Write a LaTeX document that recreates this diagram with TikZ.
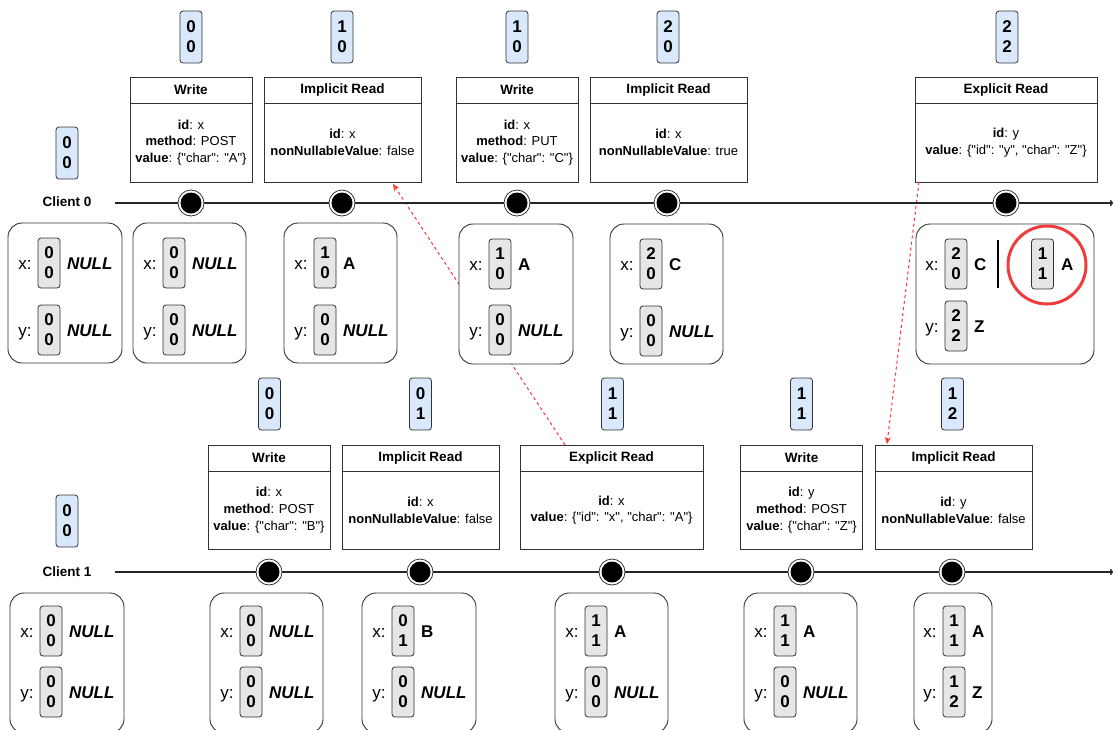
\documentclass[tikz,border=0pt]{standalone}
\usepackage{fontspec}
\setmainfont{Liberation Sans}
\newfontfamily\plainsans{Liberation Sans}
\usetikzlibrary{arrows.meta}
\definecolor{clkblue}{HTML}{DAE8FC}
\definecolor{clkgray}{HTML}{E6E6E6}
\definecolor{edgegray}{HTML}{333333}
\definecolor{arrred}{HTML}{FF3333}
\definecolor{hlred}{HTML}{EE3D3D}

\newcommand{\KeyVal}[2]{\textbf{#1}: #2}
\newcommand{\EvBox}[7]{%
  \node[evbox, minimum width=#4pt, minimum height=#5pt] (#1) at (#2,#3) {};
  \draw[evline] ([yshift=-26pt]#1.north west) -- ([yshift=-26pt]#1.north east);
  \node[evtitle] (#1t) at ([yshift=-13pt]#1.north) {#6};
  \node[evbody] (#1b) at ([yshift=-13pt]#1.center) {#7};}
\newcommand{\VClk}[5]{\node[vclk] (#1) at (#2,#3) {#4\\#5};}
\newcommand{\StRow}[7]{%
  \node[slbl] (#1l) at (#2+17,#3) {#4:};
  \node[gclk] (#1c) at (#2+41,#3) {#5\\#6};
  \node[sval] (#1v) at (#2+59,#3) {#7};}
\newcommand{\EvMark}[3]{\node[evmark] (#1) at (#2,#3) {};}
\newcommand{\NL}{\textit{NULL}}

\tikzset{
  evbox/.style={draw=edgegray, fill=white, line width=0.9pt, inner sep=0pt, outer sep=0pt},
  evline/.style={draw=edgegray, line width=0.9pt},
  evtitle/.style={inner sep=0pt, font=\plainsans\fontsize{13.5}{16}\selectfont\bfseries},
  evbody/.style={inner sep=0pt, align=center, font=\plainsans\fontsize{13}{16.7}\selectfont},
  vclk/.style={draw=edgegray, fill=clkblue, rounded corners=3pt, minimum width=22pt, minimum height=52pt, inner sep=0pt, align=center, line width=0.8pt, font=\plainsans\fontsize{17}{20}\selectfont\bfseries},
  gclk/.style={vclk, fill=clkgray, minimum height=50pt},
  stbox/.style={draw=edgegray, fill=white, rounded corners=14pt, line width=0.9pt, inner sep=0pt},
  slbl/.style={inner sep=0pt, text height=12.2pt, text depth=0pt, font=\plainsans\fontsize{17}{20}\selectfont},
  sval/.style={slbl, anchor=west, font=\plainsans\fontsize{17}{20}\selectfont\bfseries},
  evmark/.style={circle, draw=black!80, fill=white, minimum size=26pt, inner sep=0pt, line width=0.8pt,
     path picture={\fill[black] (path picture bounding box.center) circle (10.5pt);}},
  timeline/.style={draw=black!85, line width=1.4pt, -{To[length=3pt,width=6pt]}},
  causal/.style={draw=arrred, line width=1pt, dash pattern=on 3pt off 3pt, -{Stealth[length=7pt,width=6pt]}},
  client/.style={inner sep=0pt, font=\plainsans\fontsize{13.5}{16}\selectfont\bfseries},
  hlring/.style={circle, draw=hlred, line width=3pt, minimum size=78pt, inner sep=0pt},
  barsep/.style={draw=black, line width=1.5pt}
}

\begin{document}
\begin{tikzpicture}[x=1pt, y=-1pt]
\path[fill=white, use as bounding box] (0,0) rectangle (1114,729);

% ---------- event boxes (Client 0) ----------
\EvBox{A1}{191}{129.5}{122}{105}{Write}{\KeyVal{id}{x}\\\KeyVal{method}{POST}\\\KeyVal{value}{\{"char": "A"\}}}
\EvBox{A2}{342.5}{129.5}{157}{105}{Implicit Read}{\KeyVal{id}{x}\\\KeyVal{nonNullableValue}{false}}
\EvBox{A3}{517}{129.5}{122}{105}{Write}{\KeyVal{id}{x}\\\KeyVal{method}{PUT}\\\KeyVal{value}{\{"char": "C"\}}}
\EvBox{A4}{668.5}{129.5}{157}{105}{Implicit Read}{\KeyVal{id}{x}\\\KeyVal{nonNullableValue}{true}}
\EvBox{A5}{1006}{129.5}{182}{105}{Explicit Read}{\KeyVal{id}{y}\\\KeyVal{value}{\{"id": "y", "char": "Z"\}}}

% ---------- event boxes (Client 1) ----------
\EvBox{B1}{269}{497}{122}{104}{Write}{\KeyVal{id}{x}\\\KeyVal{method}{POST}\\\KeyVal{value}{\{"char": "B"\}}}
\EvBox{B2}{420.5}{497}{157}{104}{Implicit Read}{\KeyVal{id}{x}\\\KeyVal{nonNullableValue}{false}}
\EvBox{B3}{611.5}{497}{183}{104}{Explicit Read}{\KeyVal{id}{x}\\\KeyVal{value}{\{"id": "x", "char": "A"\}}}
\EvBox{B4}{801.5}{497}{122}{104}{Write}{\KeyVal{id}{y}\\\KeyVal{method}{POST}\\\KeyVal{value}{\{"char": "Z"\}}}
\EvBox{B5}{953.5}{497}{157}{104}{Implicit Read}{\KeyVal{id}{y}\\\KeyVal{nonNullableValue}{false}}

% ---------- causal arrows ----------
\draw[causal] ([xshift=45pt]B3.north west) -- ([xshift=129pt,yshift=-2pt]A2.south west);
\draw[causal] ([xshift=4pt]A5.south west) -- ([xshift=12pt,yshift=1pt]B5.north west);

% ---------- timelines ----------
\node[client] (cl0) at (67,202) {Client 0};
\node[client] (cl1) at (67,572) {Client 1};
\coordinate (t0s) at (115,203);
\coordinate (t0e) at (1113,203);
\coordinate (t1s) at (115,572);
\coordinate (t1e) at (1113,572);
\draw[timeline] (t0s) -- (t0e);
\draw[timeline] (t1s) -- (t1e);

% ---------- vector clocks ----------
\VClk{V0}{67}{153}{0}{0}
\VClk{VA1}{191}{37}{0}{0}
\VClk{VA2}{342}{37}{1}{0}
\VClk{VA3}{517}{37}{1}{0}
\VClk{VA4}{668}{37}{2}{0}
\VClk{VA5}{1007}{37}{2}{2}
\VClk{V1}{67}{521}{0}{0}
\VClk{VB1}{269.5}{404}{0}{0}
\VClk{VB2}{420.5}{404}{0}{1}
\VClk{VB3}{612.5}{404}{1}{1}
\VClk{VB4}{801.5}{404}{1}{1}
\VClk{VB5}{952.5}{404}{1}{2}

% ---------- event markers ----------
\EvMark{MA1}{191}{203}
\EvMark{MA2}{342}{203}
\EvMark{MA3}{517}{203}
\EvMark{MA4}{667}{203}
\EvMark{MA5}{1006}{203}
\EvMark{MB1}{269}{572}
\EvMark{MB2}{420}{572}
\EvMark{MB3}{612}{572}
\EvMark{MB4}{801}{572}
\EvMark{MB5}{952}{572}

% ---------- states Client 0 ----------
\node[stbox, minimum width=114pt, minimum height=140pt] (S0) at (65,293) {};
\StRow{S0x}{8}{263}{x}{0}{0}{\NL}
\StRow{S0y}{8}{330}{y}{0}{0}{\NL}
\node[stbox, minimum width=113pt, minimum height=140pt] (S1) at (189.5,293) {};
\StRow{S1x}{133}{263}{x}{0}{0}{\NL}
\StRow{S1y}{133}{330}{y}{0}{0}{\NL}
\node[stbox, minimum width=113pt, minimum height=140pt] (S2) at (340.5,293) {};
\StRow{S2x}{284}{263}{x}{1}{0}{A}
\StRow{S2y}{284}{330}{y}{0}{0}{\NL}
\node[stbox, minimum width=114pt, minimum height=140pt] (S3) at (516,294) {};
\StRow{S3x}{459}{264}{x}{1}{0}{A}
\StRow{S3y}{459}{330}{y}{0}{0}{\NL}
\node[stbox, minimum width=113pt, minimum height=140pt] (S4) at (666.5,294) {};
\StRow{S4x}{610}{264}{x}{2}{0}{C}
\StRow{S4y}{610}{331}{y}{0}{0}{\NL}
\node[stbox, minimum width=178pt, minimum height=140pt] (S5) at (1005,294) {};
\StRow{S5x}{915}{264}{x}{2}{0}{C}
\StRow{S5y}{915}{326}{y}{2}{2}{Z}
\coordinate (bar1) at (998,240);
\coordinate (bar2) at (998,288);
\draw[barsep] (bar1) -- (bar2);
\node[gclk] (S5hc) at (1042.5,264) {1\\1};
\node[sval] (S5hv) at (1061,264) {A};
\node[hlring] (S5ring) at (1047,265) {};

% ---------- states Client 1 ----------
\node[stbox, minimum width=114pt, minimum height=140pt] (T0) at (67,663) {};
\StRow{T0x}{10}{631}{x}{0}{0}{\NL}
\StRow{T0y}{10}{692}{y}{0}{0}{\NL}
\node[stbox, minimum width=113pt, minimum height=140pt] (T1) at (266.5,663) {};
\StRow{T1x}{210}{631}{x}{0}{0}{\NL}
\StRow{T1y}{210}{692}{y}{0}{0}{\NL}
\node[stbox, minimum width=114pt, minimum height=140pt] (T2) at (419,663) {};
\StRow{T2x}{362}{631}{x}{0}{1}{B}
\StRow{T2y}{362}{692}{y}{0}{0}{\NL}
\node[stbox, minimum width=113pt, minimum height=140pt] (T3) at (611.5,663) {};
\StRow{T3x}{555}{631}{x}{1}{1}{A}
\StRow{T3y}{555}{692}{y}{0}{0}{\NL}
\node[stbox, minimum width=113pt, minimum height=140pt] (T4) at (800.5,663) {};
\StRow{T4x}{744}{631}{x}{1}{1}{A}
\StRow{T4y}{744}{692}{y}{0}{0}{\NL}
\node[stbox, minimum width=78pt, minimum height=140pt] (T5) at (953,663) {};
\StRow{T5x}{913}{631}{x}{1}{1}{A}
\StRow{T5y}{913}{692}{y}{1}{2}{Z}
\end{tikzpicture}
\end{document}
